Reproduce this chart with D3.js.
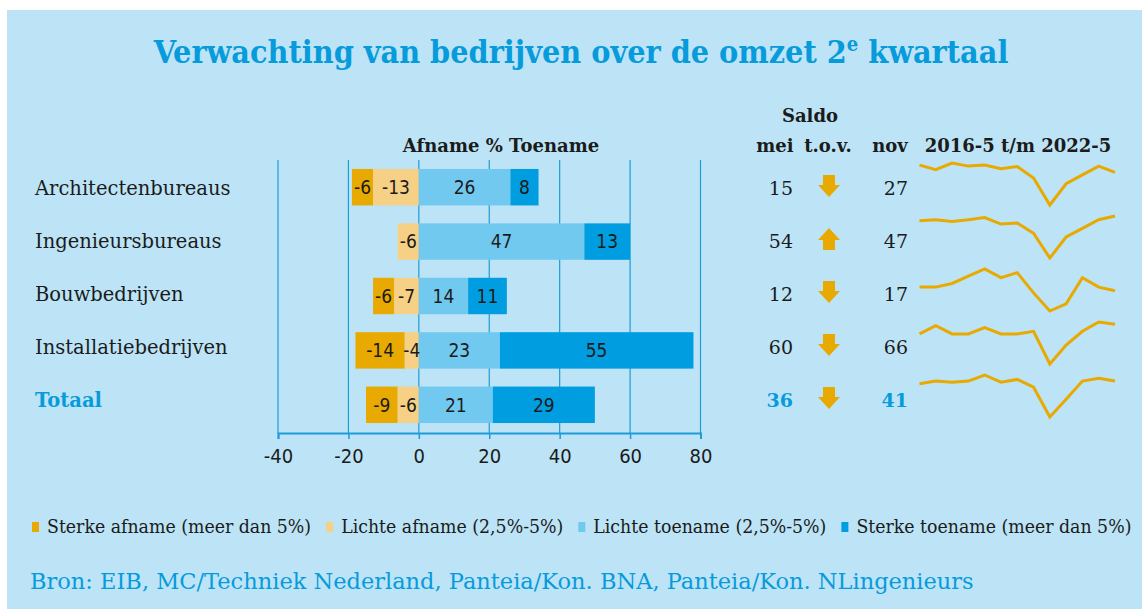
<!DOCTYPE html>
<html>
<head>
<meta charset="utf-8">
<script src="https://cdn.jsdelivr.net/npm/d3@7"></script>
<style>
body { margin: 0; background: #ffffff; }
.serif { font-family: "DejaVu Serif Condensed", "DejaVu Serif", serif; font-stretch: condensed; }
.serifw { font-family: "DejaVu Serif", serif; }
.sans { font-family: "DejaVu Sans Condensed", "DejaVu Sans", sans-serif; font-stretch: condensed; }
</style>
</head>
<body>
<div id="chart"></div>
<script>
// categories and values
var categories = ["Architectenbureaus", "Ingenieursbureaus", "Bouwbedrijven", "Installatiebedrijven", "Totaal"];
var sterkeAfname = [-6, 0, -6, -14, -9];
var lichteAfname = [-13, -6, -7, -4, -6];
var lichteToename = [26, 47, 14, 23, 21];
var sterkeToename = [8, 13, 11, 55, 29];
var saldoMei = [15, 54, 12, 60, 36];
var saldoNov = [27, 47, 17, 66, 41];
var xTicks = [-40, -20, 0, 20, 40, 60, 80];

// saldo per half year, 2016-5 t/m 2022-5
var periods = ["2016-5", "2016-11", "2017-5", "2017-11", "2018-5", "2018-11", "2019-5",
               "2019-11", "2020-5", "2020-11", "2021-5", "2021-11", "2022-5"];
var sparkArchitecten = [29, 20, 33, 27, 29, 22, 26, 4, -48, -7, 10, 27, 15];
var sparkIngenieurs = [45, 47, 44, 47, 51, 39, 41, 22, -24, 15, 31, 47, 54];
var sparkBouw = [17, 17, 22, 32, 42, 30, 37, 9, -16, -6, 30, 17, 12];
var sparkInstallatie = [34, 56, 34, 34, 51, 34, 34, 41, -47, 4, 41, 66, 60];
var sparkTotaal = [31, 36, 34, 36, 47, 34, 39, 25, -29, 3, 36, 41, 36];
var sparkSeries = [sparkArchitecten, sparkIngenieurs, sparkBouw, sparkInstallatie, sparkTotaal];

var legendLabels = ["Sterke afname (meer dan 5%)", "Lichte afname (2,5%-5%)",
                    "Lichte toename (2,5%-5%)", "Sterke toename (meer dan 5%)"];
var colors = ["#e8a900", "#f6d084", "#72c9ef", "#009ee0"];

var blue = "#079bdc";
var ink = "#1b1b1b";
var width = 1142, height = 609;

var svg = d3.select("#chart").append("svg")
    .attr("width", width)
    .attr("height", height);

// panel
svg.append("rect")
    .attr("x", 7).attr("y", 10)
    .attr("width", width - 7).attr("height", height - 10)
    .attr("fill", "#bce4f6");

// title
var title = svg.append("text")
    .attr("class", "serif")
    .attr("x", 581).attr("y", 63)
    .attr("text-anchor", "middle")
    .style("font-size", "32px")
    .style("font-weight", "bold")
    .attr("fill", blue);
title.append("tspan").text("Verwachting van bedrijven over de omzet 2");
title.append("tspan").attr("dy", -12).style("font-size", "20px").text("e");
title.append("tspan").attr("dy", 12).text(" kwartaal");

// scales
var x = d3.scaleLinear().domain([-40, 80]).range([278, 700.5]);
var yBar = d3.scaleBand().domain(categories).range([160, 432])
    .paddingInner(0.33).paddingOuter(0.165);
var yRow = d3.scalePoint().domain(categories).range([188, 400]);

// gridlines
svg.append("g").selectAll("line")
    .data(xTicks)
    .enter().append("line")
    .attr("x1", function (d) { return x(d); })
    .attr("x2", function (d) { return x(d); })
    .attr("y1", 160).attr("y2", 433)
    .attr("stroke", "#1e9bd8")
    .attr("stroke-width", 1.2);

// bars
var rows = categories.map(function (c, i) {
    var la = lichteAfname[i], sa = sterkeAfname[i];
    var lt = lichteToename[i], st = sterkeToename[i];
    return [
        { cat: c, v: sa, x0: la + sa, x1: la, color: colors[0] },
        { cat: c, v: la, x0: la, x1: 0, color: colors[1] },
        { cat: c, v: lt, x0: 0, x1: lt, color: colors[2] },
        { cat: c, v: st, x0: lt, x1: lt + st, color: colors[3] }
    ].filter(function (s) { return s.v != 0; });
});
var segments = [].concat.apply([], rows);

svg.append("g").selectAll("rect")
    .data(segments)
    .enter().append("rect")
    .attr("x", function (d) { return x(d.x0); })
    .attr("y", function (d) { return yBar(d.cat); })
    .attr("width", function (d) { return x(d.x1) - x(d.x0); })
    .attr("height", yBar.bandwidth())
    .attr("fill", function (d) { return d.color; });

svg.append("g").selectAll("text")
    .data(segments)
    .enter().append("text")
    .attr("class", "sans")
    .attr("x", function (d) { return (x(d.x0) + x(d.x1)) / 2; })
    .attr("y", function (d) { return yBar(d.cat) + yBar.bandwidth() / 2; })
    .attr("dy", "0.36em")
    .attr("text-anchor", "middle")
    .style("font-size", "19px")
    .attr("fill", ink)
    .text(function (d) { return d.v; });

// x axis
var xAxis = svg.append("g")
    .attr("transform", "translate(0,433)")
    .call(d3.axisBottom(x).tickValues(xTicks).tickSize(6).tickPadding(10)
        .tickFormat(function (d) { return String(d); }));
xAxis.select(".domain").attr("stroke", "#1e9bd8").attr("stroke-width", 2);
xAxis.selectAll(".tick line").attr("stroke", "#1e9bd8").attr("stroke-width", 1.5);
xAxis.selectAll(".tick text")
    .attr("class", "sans")
    .style("font-size", "20px")
    .attr("fill", ink);

// category labels
svg.append("g").selectAll("text")
    .data(categories)
    .enter().append("text")
    .attr("class", "serifw")
    .attr("x", 35)
    .attr("y", function (d) { return yRow(d) + 7; })
    .style("font-size", "19.5px")
    .style("font-weight", function (d) { return d == "Totaal" ? "bold" : "normal"; })
    .attr("fill", function (d) { return d == "Totaal" ? blue : ink; })
    .text(function (d) { return d; });

// headers
function header(txt, cx, cy) {
    svg.append("text")
        .attr("class", "serifw")
        .attr("x", cx).attr("y", cy)
        .attr("text-anchor", "middle")
        .style("font-size", "18px")
        .style("font-weight", "bold")
        .attr("fill", ink)
        .text(txt);
}
header("Afname % Toename", 501, 152);
header("Saldo", 810, 122);
header("mei", 775, 152);
header("t.o.v.", 828, 152);
header("nov", 890, 152);
header("2016-5 t/m 2022-5", 1018, 152);

// saldo numbers
function saldoColumn(values, xr) {
    svg.append("g").selectAll("text")
        .data(categories)
        .enter().append("text")
        .attr("class", "serifw")
        .attr("x", xr)
        .attr("y", function (d) { return yRow(d) + 7; })
        .attr("text-anchor", "end")
        .style("font-size", "19px")
        .style("font-weight", function (d) { return d == "Totaal" ? "bold" : "normal"; })
        .attr("fill", function (d) { return d == "Totaal" ? blue : ink; })
        .text(function (d, i) { return values[i]; });
}
saldoColumn(saldoMei, 793);
saldoColumn(saldoNov, 908);

// arrows (down when mei lower than nov)
function arrowPath(cx, cy, up) {
    var s = up ? -1 : 1;
    return "M" + (cx - 6) + "," + (cy - 11 * s) +
        "H" + (cx + 6) + "V" + (cy - 1 * s) +
        "H" + (cx + 11) + "L" + cx + "," + (cy + 11 * s) +
        "L" + (cx - 11) + "," + (cy - 1 * s) +
        "H" + (cx - 6) + "Z";
}
svg.append("g").selectAll("path")
    .data(categories)
    .enter().append("path")
    .attr("d", function (d, i) { return arrowPath(829, yRow(d) - 2, saldoMei[i] > saldoNov[i]); })
    .attr("fill", colors[0]);

// sparklines
var xs = d3.scalePoint().domain(periods).range([919.5, 1115]);
sparkSeries.forEach(function (series, i) {
    var cy = yRow(categories[i]);
    var ys = d3.scaleLinear().domain(d3.extent(series)).range([cy + 17, cy - 25]);
    var line = d3.line()
        .x(function (d, j) { return xs(periods[j]); })
        .y(function (d) { return ys(d); });
    svg.append("path")
        .datum(series)
        .attr("fill", "none")
        .attr("stroke", colors[0])
        .attr("stroke-width", 3)
        .attr("d", line);
});

// legend
var legend = svg.append("g");
var lx = 32;
legendLabels.forEach(function (lab, i) {
    legend.append("rect")
        .attr("x", lx).attr("y", 522)
        .attr("width", 7).attr("height", 10)
        .attr("fill", colors[i]);
    var t = legend.append("text")
        .attr("class", "serif")
        .attr("x", lx + 15).attr("y", 533)
        .style("font-size", "19.3px")
        .attr("fill", ink)
        .text(lab);
    lx = lx + 15 + t.node().getComputedTextLength() + 15;
});

// source
svg.append("text")
    .attr("class", "serifw")
    .attr("x", 30).attr("y", 589)
    .style("font-size", "22.5px")
    .attr("fill", blue)
    .text("Bron: EIB, MC/Techniek Nederland, Panteia/Kon. BNA, Panteia/Kon. NLingenieurs");
</script>
</body>
</html>
